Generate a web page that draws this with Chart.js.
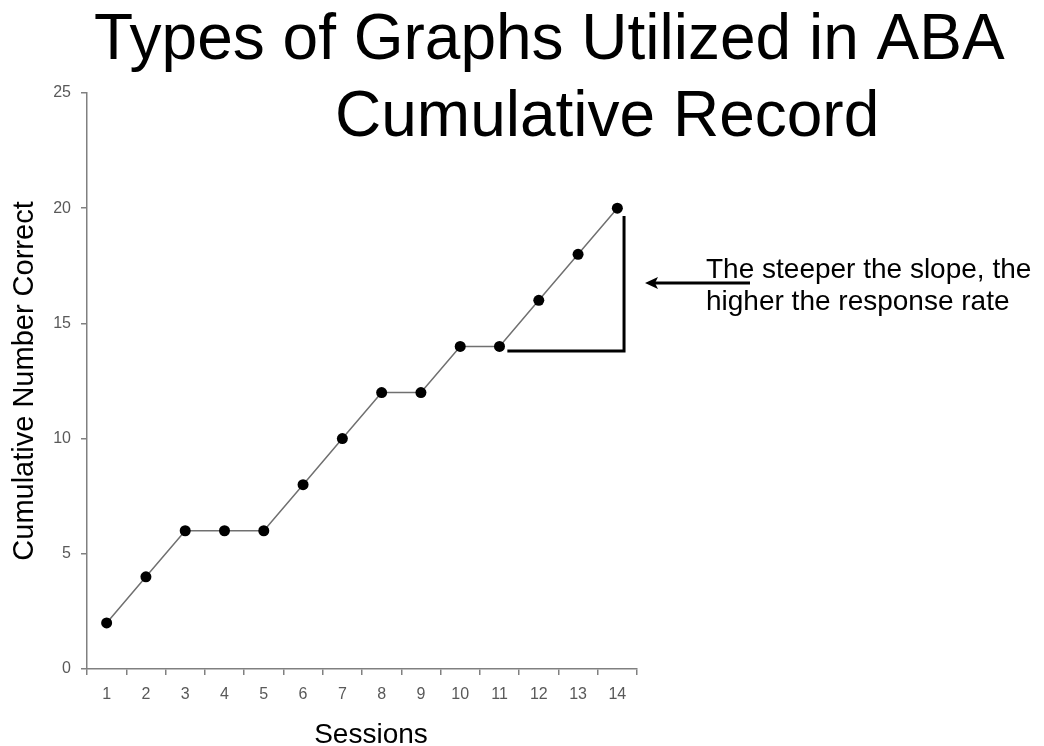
<!DOCTYPE html>
<html>
<head>
<meta charset="utf-8">
<script src="https://cdn.jsdelivr.net/npm/chart.js@4"></script>
<style>
  html, body { margin: 0; padding: 0; background: #fff; }
  #wrap { width: 1044px; height: 746px; position: relative; }
</style>
</head>
<body>
<div id="wrap"><canvas id="myChart"></canvas></div>
<script>
const sessions = ['1', '2', '3', '4', '5', '6', '7', '8', '9', '10', '11', '12', '13', '14'];
const cumulativeCorrect = [2, 4, 6, 6, 6, 8, 10, 12, 12, 14, 14, 16, 18, 20];
const yTicks = [0, 5, 10, 15, 20, 25];

const titleLines = ['Types of Graphs Utilized in ABA', 'Cumulative Record'];
const noteLines = ['The steeper the slope, the', 'higher the response rate'];
const xTitle = 'Sessions';

// slope triangle, in data units (x = category index, y = value)
const slopeFromX = 10.2;
const slopeToX = 13.17;
const slopeBaseY = 13.8;
const slopeTopY = 19.66;

const FONT = '"Liberation Sans", Arial, sans-serif';
const AXIS_GRAY = '#808080';

const decorPlugin = {
    id: 'decor',
    afterDraw(chart) {
        const ctx = chart.ctx;
        const xs = chart.scales.x;
        const ys = chart.scales.y;
        ctx.save();

        // title
        ctx.fillStyle = '#000';
        ctx.textBaseline = 'alphabetic';
        ctx.textAlign = 'left';
        ctx.font = '64px ' + FONT;
        ctx.fillText(titleLines[0], 94, 59);
        ctx.fillText(titleLines[1], 335, 136);

        // x axis title (sits a bit right of the axis centre in the original)
        ctx.font = '28px ' + FONT;
        ctx.textAlign = 'center';
        ctx.fillText(xTitle, 371, 743);
        ctx.textAlign = 'left';

        // slope triangle
        const x1 = xs.getPixelForValue(slopeFromX);
        const x2 = xs.getPixelForValue(slopeToX);
        const yb = ys.getPixelForValue(slopeBaseY);
        const yt = ys.getPixelForValue(slopeTopY);
        ctx.strokeStyle = '#000';
        ctx.lineWidth = 3;
        ctx.lineCap = 'butt';
        ctx.beginPath();
        ctx.moveTo(x1, yb);
        ctx.lineTo(x2, yb);
        ctx.lineTo(x2, yt);
        ctx.stroke();

        // arrow
        ctx.beginPath();
        ctx.moveTo(750, 283);
        ctx.lineTo(655, 283);
        ctx.stroke();
        ctx.beginPath();
        ctx.moveTo(645, 283);
        ctx.lineTo(658, 277);
        ctx.lineTo(655, 283);
        ctx.lineTo(658, 289);
        ctx.closePath();
        ctx.fillStyle = '#000';
        ctx.fill();

        // note
        ctx.font = '28px ' + FONT;
        ctx.fillText(noteLines[0], 706, 278);
        ctx.fillText(noteLines[1], 706, 310);

        ctx.restore();
    }
};

const ctx = document.getElementById('myChart').getContext('2d');
new Chart(ctx, {
    type: 'line',
    data: {
        labels: sessions,
        datasets: [{
            label: 'Cumulative Number Correct',
            data: cumulativeCorrect,
            borderColor: '#707070',
            borderWidth: 1.5,
            tension: 0,
            pointRadius: 5.5,
            pointHoverRadius: 5.5,
            pointBackgroundColor: '#000',
            pointBorderColor: '#000',
            pointBorderWidth: 0
        }]
    },
    options: {
        responsive: true,
        maintainAspectRatio: false,
        animation: false,
        layout: { padding: { top: 93, right: 407, bottom: 0, left: 0 } },
        scales: {
            x: {
                type: 'category',
                offset: true,
                afterFit: function(scale) { scale.height = 77; },
                grid: {
                    offset: true,
                    drawOnChartArea: false,
                    drawTicks: true,
                    tickLength: 6,
                    color: AXIS_GRAY,
                    lineWidth: 1.5
                },
                border: { color: AXIS_GRAY, width: 1.5 },
                ticks: {
                    padding: 10,
                    color: '#595959',
                    font: { family: FONT, size: 16 },
                    maxRotation: 0,
                    autoSkip: false
                },
                title: { display: false }
            },
            y: {
                min: 0,
                max: 25,
                afterFit: function(scale) { scale.width = 87; },
                afterBuildTicks: function(scale) {
                    scale.ticks = yTicks.map(v => ({ value: v }));
                },
                grid: {
                    drawOnChartArea: false,
                    drawTicks: true,
                    tickLength: 6,
                    color: AXIS_GRAY,
                    lineWidth: 1.5
                },
                border: { color: AXIS_GRAY, width: 1.5 },
                ticks: {
                    padding: 10,
                    color: '#595959',
                    font: { family: FONT, size: 16 }
                },
                title: {
                    display: true,
                    text: 'Cumulative Number Correct',
                    color: '#000',
                    font: { family: FONT, size: 29, lineHeight: 1.2 },
                    padding: { top: 8, bottom: 0 }
                }
            }
        },
        plugins: {
            legend: { display: false },
            title: { display: false },
            tooltip: { enabled: false }
        }
    },
    plugins: [decorPlugin]
});
</script>
</body>
</html>
